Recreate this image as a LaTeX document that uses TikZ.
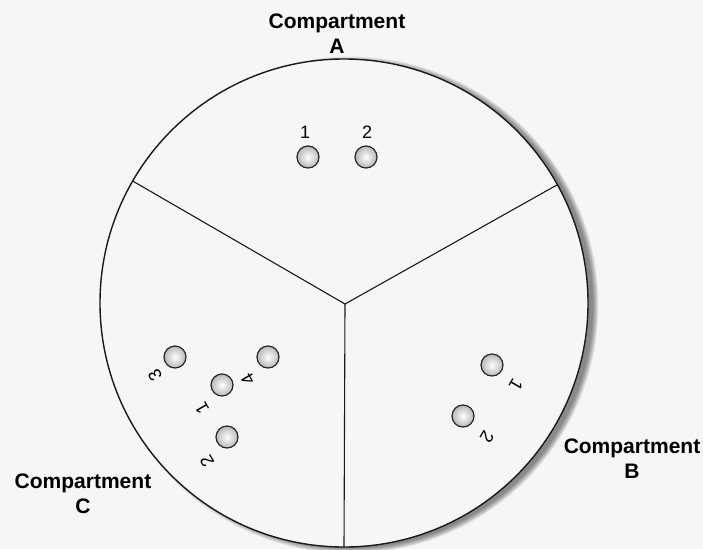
\documentclass[tikz,border=0pt]{standalone}
\usepackage{fontspec}
\setmainfont{Liberation Sans}
\definecolor{bgc}{gray}{0.965}
\tikzset{
  ball/.style={circle, minimum size=22pt, inner sep=0pt, draw=black!85, line width=1.2pt, shading=radial, inner color=white, outer color=black!28},
  comp/.style={font=\fontsize{21}{25}\selectfont\bfseries, align=center, inner sep=0pt},
  num/.style={font=\fontsize{18}{18}\selectfont, inner sep=0pt},
  divider/.style={line width=1.1pt, draw=black!90}
}
\begin{document}
\begin{tikzpicture}[x=1pt,y=-1pt]
\useasboundingbox (0,0) rectangle (703,549);
\fill[bgc] (0,0) rectangle (703,549);
% soft shadow of the dish
\foreach \k in {0,1,2,3,4,5,6}
  \fill[black, opacity=0.08] (350,305) circle ({243+\k*0.9});
\node[circle, minimum size=488pt, inner sep=0pt, outer sep=0pt, draw=black!90, line width=1.4pt, fill=bgc] (dish) at (344,303) {};
\coordinate (ctr) at (345,304);
\draw[divider] (ctr) -- (dish.150.7);
\draw[divider] (ctr) -- (dish.29.8);
\draw[divider] (ctr) -- (dish.270);

% compartment labels
\node[comp] (labA) at (337,34) {Compartment\\A};
\node[comp] (labB) at (632,459) {Compartment\\B};
\node[comp] (labC) at (83,494) {Compartment\\C};

% compartment A
\node[ball] (a1) at (308,157) {};
\node[ball] (a2) at (366,157) {};
\node[num] (na1) at (305,132) {1};
\node[num] (na2) at (367,132) {2};

% compartment C
\node[ball] (c3) at (175,357) {};
\node[ball] (c4) at (268,357) {};
\node[ball] (c1) at (222,385) {};
\node[ball] (c2) at (227,437) {};
\node[num, rotate=120] (nc3) at (155,375) {3};
\node[num, rotate=120] (nc4) at (248,379) {4};
\node[num, rotate=120] (nc1) at (202,408) {1};
\node[num, rotate=120] (nc2) at (207,461) {2};

% compartment B
\node[ball] (b1) at (492,365) {};
\node[ball] (b2) at (463,416) {};
\node[num, rotate=-120] (nb1) at (516,385) {1};
\node[num, rotate=-120] (nb2) at (487,437) {2};
\end{tikzpicture}
\end{document}
